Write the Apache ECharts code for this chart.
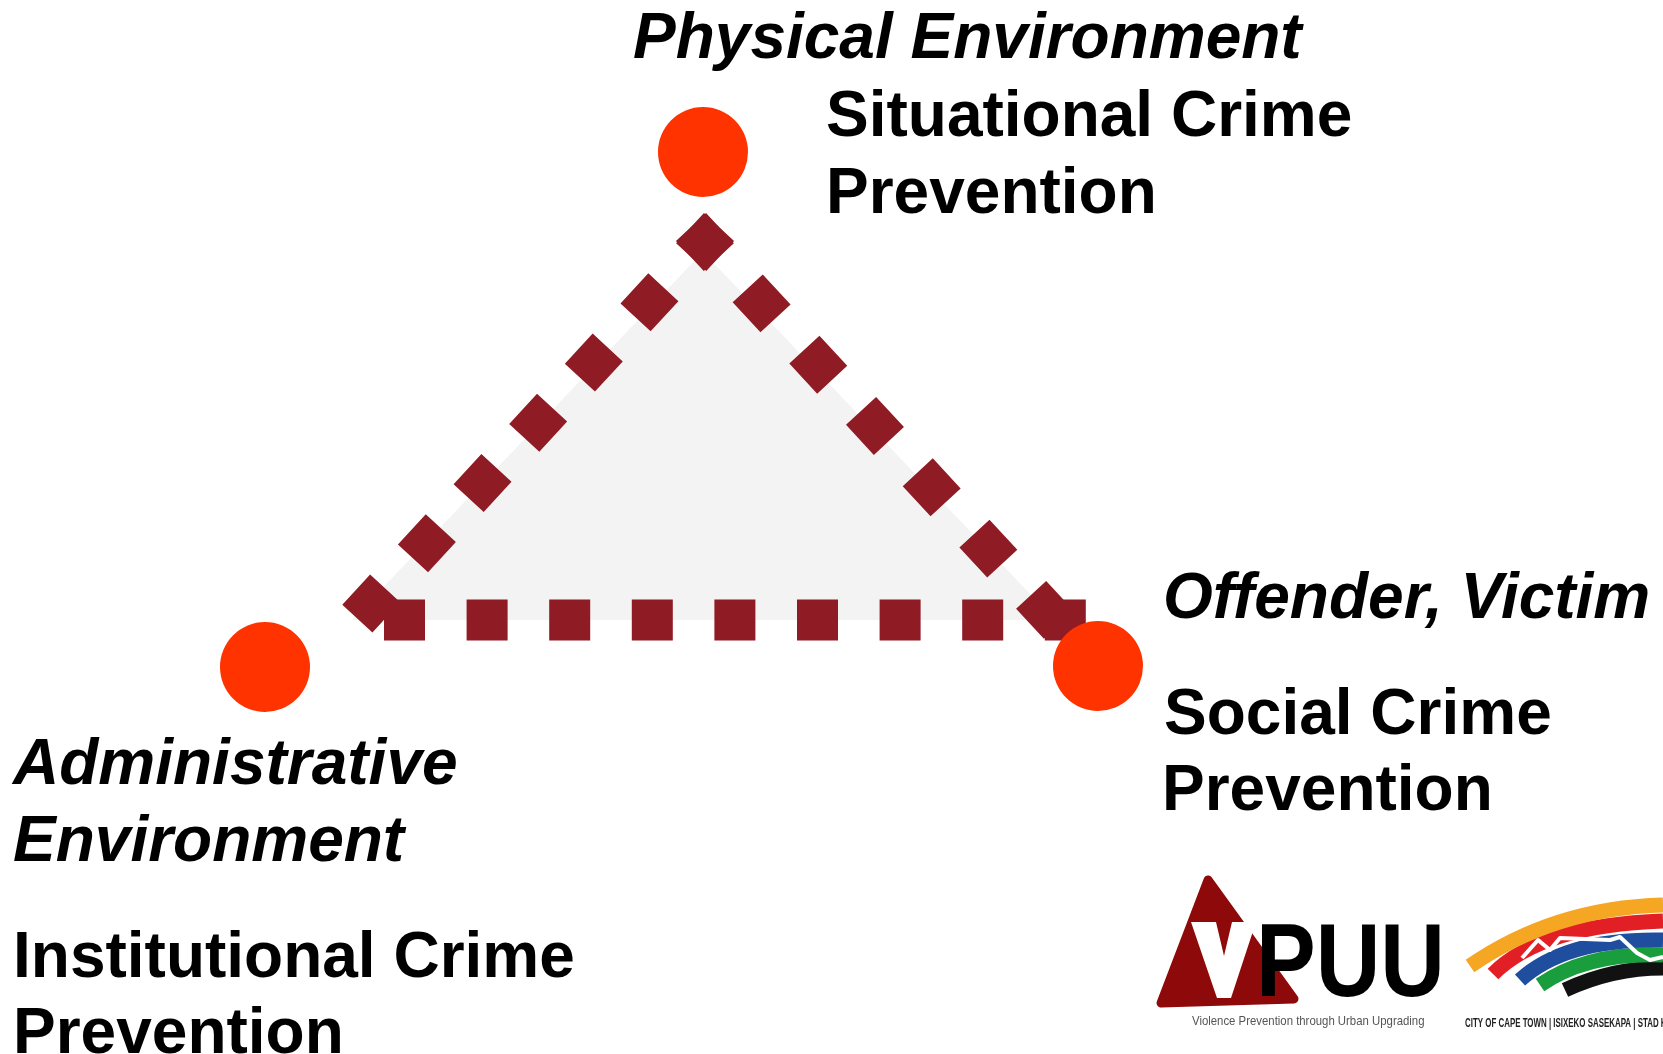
<!DOCTYPE html>
<html>
<head>
<meta charset="utf-8">
<script src="https://cdn.jsdelivr.net/npm/echarts@6/dist/echarts.min.js"></script>
<style>
  html, body { margin: 0; padding: 0; background: #ffffff; }
  #grafico { width: 1663px; height: 1054px; }
</style>
</head>
<body>
<div id="grafico"></div>
<script>
// Vértices del triángulo (nodos)
var nodeNames = ["Physical Environment", "Offender, Victim", "Administrative Environment"];
var nodeX = [703, 1098, 265];
var nodeY = [152, 666, 667];

// Lados punteados: inicio y fin de cada lado
var edgeStartX = [719, 691, 384];
var edgeStartY = [227, 227, 620];
var edgeEndX = [356, 1059, 1086];
var edgeEndY = [620, 625, 620];
var edgeGaps = [41, 42.5, 41.6];

// Relleno gris del triángulo
var fillX = [703, 352, 1055];
var fillY = [252, 620, 620];

// Textos
var italicLabels = ["Physical Environment", "Offender, Victim", "Administrative", "Environment"];
var boldLabels = ["Situational Crime", "Prevention", "Social Crime", "Prevention", "Institutional Crime", "Prevention"];

var FONT = '"Liberation Sans", Arial, sans-serif';

function textLine(txt, x, baseline, italic) {
  return {
    type: "text",
    z: 10,
    silent: true,
    style: {
      text: txt,
      x: x,
      y: baseline - 20,
      verticalAlign: "middle",
      font: (italic ? "italic bold 64px " : "bold 64px ") + FONT,
      fill: "#000000",
    },
  };
}

// Texto comprimido horizontalmente (logos)
function narrowText(txt, x, y, font, sx, color, valign) {
  return {
    type: "text",
    z: 7,
    silent: true,
    x: x,
    y: y,
    scaleX: sx,
    style: { text: txt, x: 0, y: 0, verticalAlign: valign, font: font, fill: color },
  };
}

function band(x1, y1, cx, cy, x2, y2, color) {
  return {
    type: "bezierCurve",
    z: 5,
    silent: true,
    shape: { x1: x1, y1: y1, cpx1: cx, cpy1: cy, x2: x2, y2: y2 },
    style: { stroke: color, lineWidth: 15, fill: null },
  };
}

var series = [];

// Relleno gris
series.push({
  type: "custom",
  z: 1,
  silent: true,
  data: [0],
  renderItem: function (params, api) {
    var pts = [];
    for (var i = 0; i < fillX.length; i++) {
      pts.push(api.coord([fillX[i], fillY[i]]));
    }
    return { type: "polygon", shape: { points: pts }, style: { fill: "#f3f3f3" } };
  },
});

// Lados punteados
for (var i = 0; i < edgeStartX.length; i++) {
  series.push({
    type: "line",
    z: 2,
    silent: true,
    symbol: "none",
    clip: false,
    data: [
      [edgeStartX[i], edgeStartY[i]],
      [edgeEndX[i], edgeEndY[i]],
    ],
    lineStyle: {
      color: "#8f1b24",
      width: 41,
      type: [41, edgeGaps[i]],
      cap: "butt",
    },
  });
}

// Nodos
var nodeData = [];
for (var i = 0; i < nodeNames.length; i++) {
  nodeData.push({ name: nodeNames[i], value: [nodeX[i], nodeY[i]] });
}
series.push({
  type: "scatter",
  z: 3,
  silent: true,
  symbol: "circle",
  symbolSize: 90,
  itemStyle: { color: "#ff3300", opacity: 1 },
  data: nodeData,
});

var graphics = [
  textLine(italicLabels[0], 633, 60, true),
  textLine(boldLabels[0], 826, 138, false),
  textLine(boldLabels[1], 826, 215, false),
  textLine(italicLabels[1], 1163, 620, true),
  textLine(boldLabels[2], 1164, 736, false),
  textLine(boldLabels[3], 1162, 812, false),
  textLine(italicLabels[2], 13, 786, true),
  textLine(italicLabels[3], 13, 863, true),
  textLine(boldLabels[4], 13, 979, false),
  textLine(boldLabels[5], 13, 1055, false),

  // Logo VPUU
  {
    type: "polygon",
    z: 5,
    silent: true,
    shape: { points: [[1208, 880], [1161, 1003], [1294, 999]] },
    style: { fill: "#8e0a0a", stroke: "#8e0a0a", lineWidth: 9, lineJoin: "round" },
  },
  {
    type: "polygon",
    z: 6,
    silent: true,
    shape: {
      points: [[1191, 922], [1216, 922], [1224, 956], [1232, 922], [1256, 922], [1231, 998], [1217, 998]],
    },
    style: { fill: "#ffffff" },
  },
  narrowText("PUU", 1256, 1019, "bold 104px " + FONT, 0.86, "#000000", "bottom"),
  narrowText("Violence Prevention through Urban Upgrading", 1192, 1021, "13px " + FONT, 0.875, "#555555", "middle"),

  // Logo Ciudad del Cabo
  band(1565, 990, 1612, 968, 1663, 968, "#111111"),
  band(1540, 985, 1588, 952, 1663, 955, "#1a9d3c"),
  band(1520, 980, 1566, 938, 1663, 940, "#1f4e9f"),
  band(1493, 974, 1542, 925, 1663, 921, "#e31f26"),
  band(1470, 966, 1554, 908, 1663, 905, "#f5a623"),
  {
    type: "polyline", z: 6, silent: true,
    shape: {
      points: [[1522, 958], [1538, 940], [1550, 950], [1560, 938], [1610, 940], [1620, 937], [1637, 953], [1650, 960], [1663, 957]],
    },
    style: { stroke: "#ffffff", lineWidth: 4, lineJoin: "round", fill: null },
  },
  narrowText("CITY OF CAPE TOWN | ISIXEKO SASEKAPA | STAD KAAPSTAD", 1465, 1024, "bold 12px " + FONT, 0.66, "#222222", "middle"),
];

var option = {
  animation: false,
  backgroundColor: "#ffffff",
  grid: { left: 0, right: 0, top: 0, bottom: 0 },
  xAxis: { type: "value", min: 0, max: 1663, show: false },
  yAxis: { type: "value", min: 0, max: 1054, inverse: true, show: false },
  series: series,
  graphic: graphics,
};

var chart = echarts.init(document.getElementById("grafico"));
chart.setOption(option);
</script>
</body>
</html>
